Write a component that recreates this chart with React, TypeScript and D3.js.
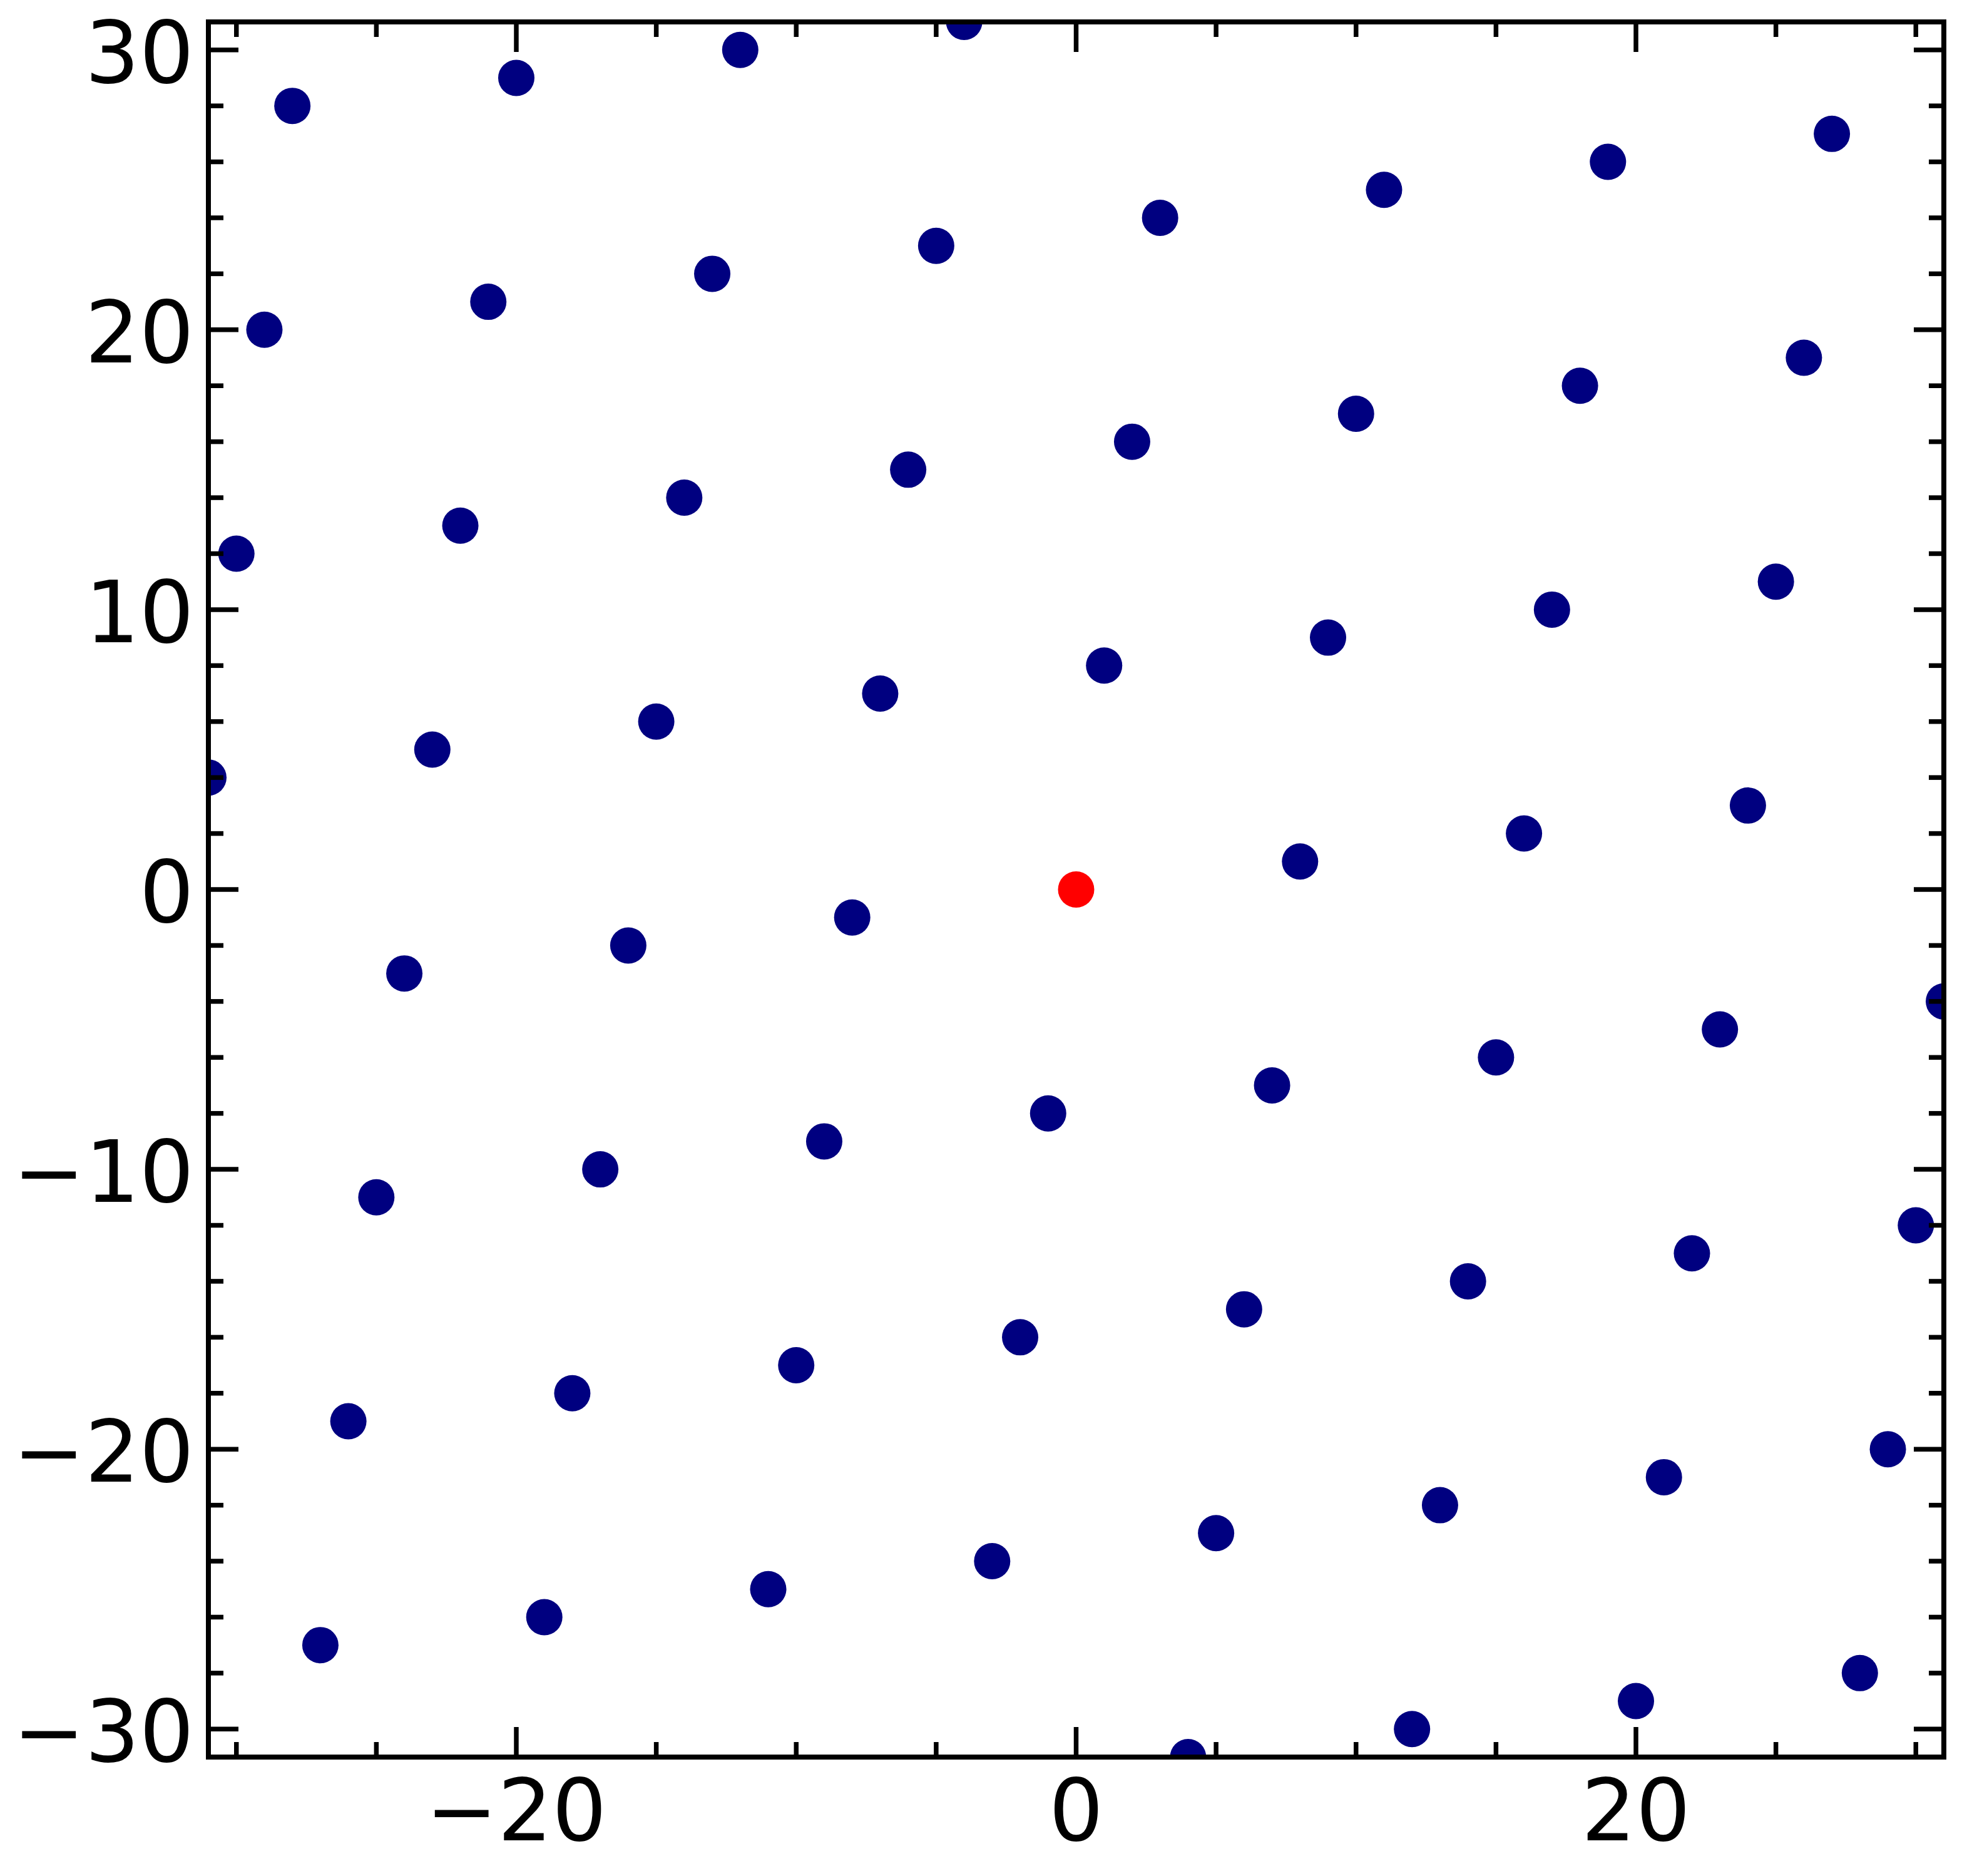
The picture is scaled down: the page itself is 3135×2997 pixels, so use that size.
import React, { useEffect, useRef } from 'react';
import * as d3 from 'd3';

// lattice points (blue)
const pointsX = [
  -31, -30, -29, -28,
  -27, -26, -25, -24, -23, -22, -21, -20,
  -19, -18, -17, -16, -15, -14, -13, -12,
  -11, -10, -9, -8, -7, -6, -5, -4,
  -3, -2, -1, 1, 2, 3,
  4, 5, 6, 7, 8, 9, 10, 11,
  12, 13, 14, 15, 16, 17, 18, 19,
  20, 21, 22, 23, 24, 25, 26, 27,
  28, 29, 30, 31,
];
const pointsY = [
  4, 12, 20, 28,
  -27, -19, -11, -3, 5, 13, 21, 29,
  -26, -18, -10, -2, 6, 14, 22, 30,
  -25, -17, -9, -1, 7, 15, 23, 31,
  -24, -16, -8, 8, 16, 24,
  -31, -23, -15, -7, 1, 9, 17, 25,
  -30, -22, -14, -6, 2, 10, 18, 26,
  -29, -21, -13, -5, 3, 11, 19, 27,
  -28, -20, -12, -4,
];
// the origin point (red)
const originX = [0];
const originY = [0];

const xLimits = [-31, 31];
const yLimits = [-31, 31];
const xMajorTicks = [-20, 0, 20];
const xMinorTicks = [-30, -25, -15, -10, -5, 5, 10, 15, 25, 30];
const yMajorTicks = [-30, -20, -10, 0, 10, 20, 30];
const yMinorTicks = [-28, -26, -24, -22, -18, -16, -14, -12, -8, -6, -4, -2, 2, 4, 6, 8, 12, 14, 16, 18, 22, 24, 26, 28];

const App = () => {
  const svgRef = useRef<SVGSVGElement>(null);

  useEffect(() => {
    document.body.style.margin = '0';
    const svg = d3.select(svgRef.current);
    svg.selectAll('*').remove();

    const width = 3135;
    const height = 2997;
    const left = 333, right = 3106, top = 35, bottom = 2807;
    const fontSize = 137;
    const major = 48, minor = 24;
    const lw = 7.5;

    svg.attr('width', width).attr('height', height);
    svg.append('rect').attr('width', width).attr('height', height).attr('fill', '#fff');

    const x = d3.scaleLinear().domain(xLimits).range([left, right]);
    const y = d3.scaleLinear().domain(yLimits).range([bottom, top]);

    svg.append('clipPath').attr('id', 'plot-clip')
      .append('rect')
      .attr('x', left).attr('y', top)
      .attr('width', right - left).attr('height', bottom - top);

    const plot = svg.append('g').attr('clip-path', 'url(#plot-clip)');

    plot.selectAll('circle.blue')
      .data(d3.range(pointsX.length))
      .enter().append('circle')
      .attr('class', 'blue')
      .attr('cx', i => x(pointsX[i]))
      .attr('cy', i => y(pointsY[i]))
      .attr('r', 29)
      .attr('fill', '#000080');

    plot.selectAll('circle.red')
      .data(d3.range(originX.length))
      .enter().append('circle')
      .attr('class', 'red')
      .attr('cx', i => x(originX[i]))
      .attr('cy', i => y(originY[i]))
      .attr('r', 29)
      .attr('fill', '#ff0000');

    // ticks pointing inward on all four sides
    const ticks = svg.append('g').attr('stroke', '#000').attr('stroke-width', lw);
    const xTicks = [...xMajorTicks.map(v => [v, major]), ...xMinorTicks.map(v => [v, minor])];
    const yTicks = [...yMajorTicks.map(v => [v, major]), ...yMinorTicks.map(v => [v, minor])];

    xTicks.forEach(([v, len]) => {
      ticks.append('line').attr('x1', x(v)).attr('x2', x(v)).attr('y1', bottom).attr('y2', bottom - len);
      ticks.append('line').attr('x1', x(v)).attr('x2', x(v)).attr('y1', top).attr('y2', top + len);
    });
    yTicks.forEach(([v, len]) => {
      ticks.append('line').attr('y1', y(v)).attr('y2', y(v)).attr('x1', left).attr('x2', left + len);
      ticks.append('line').attr('y1', y(v)).attr('y2', y(v)).attr('x1', right).attr('x2', right - len);
    });

    // frame
    svg.append('rect')
      .attr('x', left).attr('y', top)
      .attr('width', right - left).attr('height', bottom - top)
      .attr('fill', 'none')
      .attr('stroke', '#000')
      .attr('stroke-width', 8)
      .attr('stroke-linecap', 'square');

    const fmt = (v: number) => (v < 0 ? '\u2212' + Math.abs(v) : String(v));
    const labels = svg.append('g')
      .attr('font-family', '"DejaVu Sans", sans-serif')
      .attr('font-size', fontSize)
      .attr('fill', '#000');

    labels.selectAll('text.xl')
      .data(xMajorTicks)
      .enter().append('text')
      .attr('class', 'xl')
      .attr('x', d => x(d))
      .attr('y', 2940)
      .attr('text-anchor', 'middle')
      .text(d => fmt(d));

    labels.selectAll('text.yl')
      .data(yMajorTicks)
      .enter().append('text')
      .attr('class', 'yl')
      .attr('x', 310)
      .attr('y', d => y(d) + fontSize * 0.38)
      .attr('text-anchor', 'end')
      .text(d => fmt(d));
  }, []);

  return <svg ref={svgRef}></svg>;
};

export default App;
